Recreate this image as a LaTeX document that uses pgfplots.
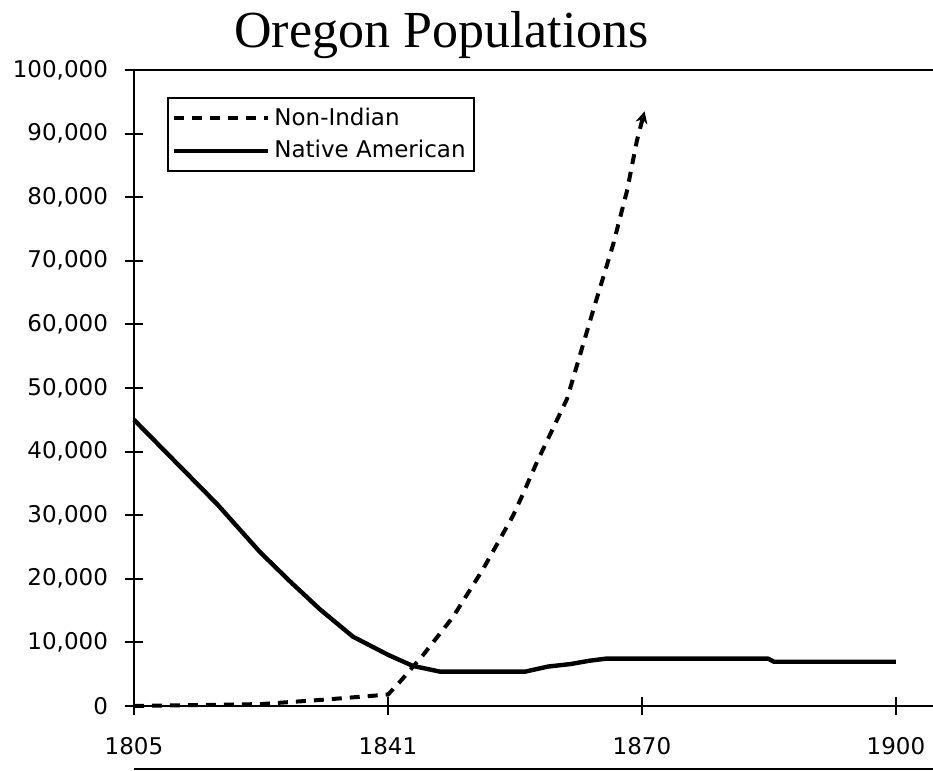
\documentclass[border=0pt]{standalone}
\usepackage{fontspec}
\setmainfont{DejaVu Sans}
\newfontfamily\titlefont{Liberation Serif}
\usepackage{pgfplots}
\pgfplotsset{compat=1.18}
\usetikzlibrary{arrows.meta}

\pgfplotstableread{
x y
0     0
0.5   300
0.75  1000
1.0   1800
1.047 3800
1.138 8000
1.256 14000
1.374 21500
1.492 29900
1.531 33300
1.587 38400
1.705 48300
1.807 62100
1.886 72500
1.941 81000
1.980 88900
2.01  93500
}\nonindian

\pgfplotstableread{
x y
0     45000
0.327 31750
0.496 24200
0.614 19600
0.732 15200
0.862 10900
1.0   8050
1.098 6300
1.205 5400
1.54  5400
1.63  6200
1.72  6600
1.79  7100
1.86  7450
2.496 7450
2.52  6950
3.0   6950
}\native

\begin{document}
\begin{tikzpicture}
\useasboundingbox (0,0) rectangle (466.5pt,385.5pt);
\begin{axis}[
  at={(67pt,32.5pt)}, anchor=south west,
  scale only axis, width=399.5pt, height=318pt,
  xmin=0, xmax=3.1457, ymin=0, ymax=100000,
  axis x line*=bottom, axis y line*=left,
  axis line style={-, line width=1pt},
  xtick={0,1,2,3}, xticklabels={1805,1841,1870,1900},
  ytick={0,10000,20000,30000,40000,50000,60000,70000,80000,90000,100000},
  yticklabels={0,{10,000},{20,000},{30,000},{40,000},{50,000},{60,000},{70,000},{80,000},{90,000},{100,000}},
  scaled y ticks=false,
  tick align=center, major tick length=9pt,
  tick style={line width=1pt, black},
  ticklabel style={font=\fontsize{11.5}{13}\selectfont},
  xticklabel style={yshift=-7.5pt},
  yticklabel style={xshift=-5pt},
  clip=false,
  legend style={at={(0.0413,0.9575)}, anchor=north west, draw=black, line width=1pt,
    font=\fontsize{11.5}{13}\selectfont, inner xsep=2pt, inner ysep=3pt,
    row sep=2pt},
  legend cell align=left,
  legend image code/.code={\draw[#1, -] (0pt,0pt) -- (47pt,0pt);},
]
\addplot[black, line width=2pt, dash pattern=on 5pt off 4pt, -{Stealth[length=6pt,width=6pt]}] table {\nonindian};
\addlegendentry{Non-Indian}
\addplot[black, line width=2.2pt] table {\native};
\addlegendentry{Native American}
\draw[line width=1pt] (rel axis cs:0,1) -- (rel axis cs:1,1);
\end{axis}
\draw[line width=1pt] (67pt,1pt) -- (466.5pt,1pt);
\node[font=\titlefont\fontsize{26}{30}\selectfont, anchor=base] at (220.75pt,361.5pt) {Oregon Populations};
\end{tikzpicture}
\end{document}
